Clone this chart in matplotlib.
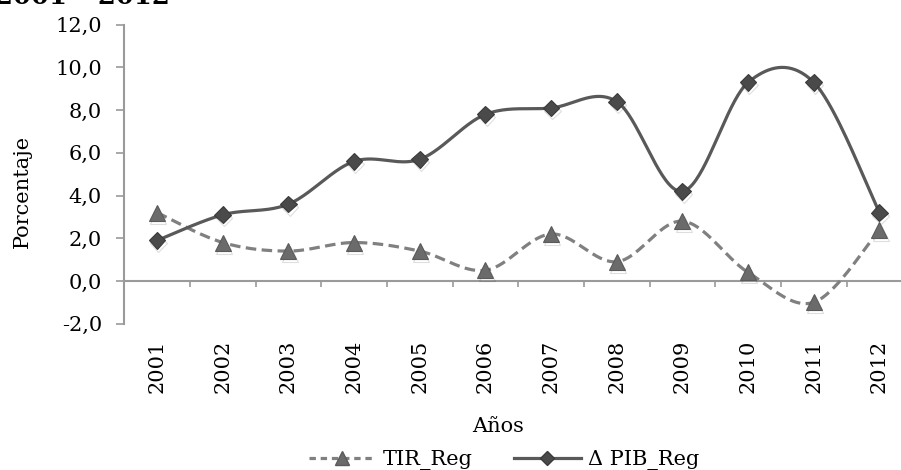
import numpy as np
import matplotlib
matplotlib.use("Agg")
import matplotlib.pyplot as plt
from matplotlib.lines import Line2D
import matplotlib.patheffects as pe

years = ["2001", "2002", "2003", "2004", "2005", "2006",
         "2007", "2008", "2009", "2010", "2011", "2012"]
tir_reg = [3.2, 1.8, 1.4, 1.8, 1.4, 0.5, 2.2, 0.9, 2.8, 0.4, -1.0, 2.4]
pib_reg = [1.9, 3.1, 3.6, 5.6, 5.7, 7.8, 8.1, 8.4, 4.2, 9.3, 9.3, 3.2]
yticks = [-2, 0, 2, 4, 6, 8, 10, 12]

plt.rcParams['font.family'] = ['DejaVu Serif']
FS = 15

W, H = 901, 470
fig = plt.figure(figsize=(W / 100, H / 100), dpi=100)
ax = fig.add_axes([124.3 / W, (H - 323.7) / H, (912.3 - 124.3) / W, (323.7 - 24.7) / H])


def smooth(y, n=40):
    """Excel-like smoothed line: Catmull-Rom Bezier segments."""
    x = np.arange(len(y), dtype=float)
    P = np.column_stack([x, np.asarray(y, float)])
    out = []
    m = len(P)
    for i in range(m - 1):
        p0 = P[max(i - 1, 0)]
        p1 = P[i]
        p2 = P[i + 1]
        p3 = P[min(i + 2, m - 1)]
        c1 = p1 + (p2 - p0) / 6.0
        c2 = p2 - (p3 - p1) / 6.0
        t = np.linspace(0, 1, n)[:, None]
        seg = ((1 - t) ** 3) * p1 + 3 * ((1 - t) ** 2) * t * c1 + 3 * (1 - t) * t ** 2 * c2 + t ** 3 * p2
        out.append(seg if i == 0 else seg[1:])
    s = np.vstack(out)
    return s[:, 0], s[:, 1]


shadow = [pe.SimpleLineShadow(offset=(0.8, -2.2), shadow_color='#000000', alpha=0.13), pe.Normal()]

tir_col = '#808080'
pib_col = '#595959'

xs, ys = smooth(tir_reg)
ax.plot(xs, ys, color=tir_col, lw=2.3, ls=(0, (3.3, 1.7)), clip_on=False, zorder=3)
xs, ys = smooth(pib_reg)
ax.plot(xs, ys, color=pib_col, lw=2.3, clip_on=False, zorder=3)

xi = np.arange(len(years))
ax.plot(xi, tir_reg, ls='none', marker='^', ms=11.5, mfc='#6b6b6b', mec='#5a5a5a', mew=0.8,
        clip_on=False, zorder=4, path_effects=shadow)
ax.plot(xi, pib_reg, ls='none', marker='D', ms=8.5, mfc='#4a4a4a', mec='#3a3a3a', mew=0.8,
        clip_on=False, zorder=5, path_effects=shadow)

ax.set_xlim(-0.5, len(years) - 0.5)
ax.set_ylim(-2, 12)

axis_col = '#9a9a9a'
for s in ['top', 'right']:
    ax.spines[s].set_visible(False)
ax.spines['left'].set_color(axis_col)
ax.spines['left'].set_linewidth(1.5)
ax.spines['bottom'].set_color(axis_col)
ax.spines['bottom'].set_linewidth(1.5)
ax.spines['bottom'].set_position(('data', 0))

ax.set_yticks(yticks)
ax.set_yticklabels([f"{v:.1f}".replace('.', ',') for v in yticks])
ax.tick_params(axis='y', direction='out', length=5.5, width=1.2, color=axis_col,
               pad=10.5, labelsize=FS, labelcolor='#000000')

ax.set_xticks(xi)
ax.set_xticklabels(years, rotation=90, va='top', ha='center')
ax.set_xticks(np.arange(-0.5, len(years), 1.0), minor=True)
ax.tick_params(axis='x', which='major', length=0, pad=42.5, labelsize=FS)
ax.tick_params(axis='x', which='minor', direction='out', length=4, width=1.2, color=axis_col)

fig.text(22 / W, 1 - 191 / H, "Porcentaje", rotation=90, ha='center', va='center', fontsize=FS)
fig.text(498 / W, 1 - 426 / H, "Años", ha='center', va='center', fontsize=FS)
fig.text(170 / W, 1 - 4.5 / H, "2001 – 2012", ha='right', va='baseline', fontsize=18.5,
         fontweight='bold')

handles = [
    Line2D([], [], color=tir_col, lw=2.3, ls=(0, (2, 1.5)), marker='^', ms=10,
           mfc='#6b6b6b', mec='#5a5a5a'),
    Line2D([], [], color=pib_col, lw=2.3, marker='D', ms=7.5, mfc='#4a4a4a', mec='#3a3a3a'),
]
fig.legend(handles, ["TIR_Reg", "Δ PIB_Reg"], loc='center', bbox_to_anchor=(504 / W, 1 - 460 / H),
           ncol=2, frameon=False, fontsize=FS, handlelength=3.2, handletextpad=0.35,
           columnspacing=2.0, borderpad=0)

fig.savefig("out.png", dpi=100)
